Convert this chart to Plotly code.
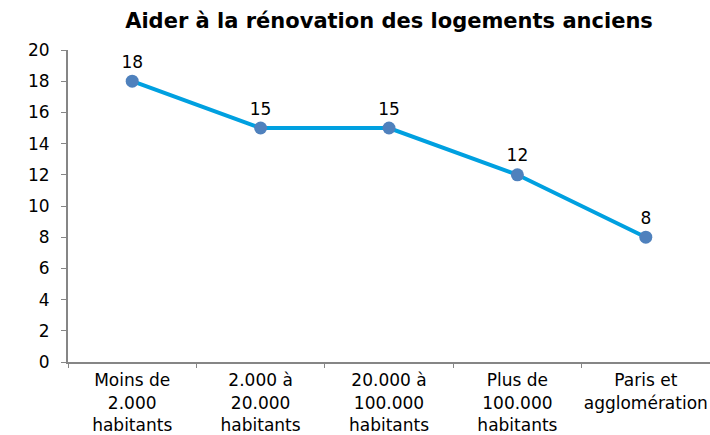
import plotly.graph_objects as go

categories = ["Moins de<br>2.000<br>habitants", "2.000 à<br>20.000<br>habitants",
              "20.000 à<br>100.000<br>habitants", "Plus de<br>100.000<br>habitants",
              "Paris et<br>agglomération"]
values = [18, 15, 15, 12, 8]
y_ticks = [0, 2, 4, 6, 8, 10, 12, 14, 16, 18, 20]
title = "Aider à la rénovation des logements anciens"

FONT = "DejaVu Sans"
fig = go.Figure()
fig.add_trace(go.Scatter(
    x=categories, y=values, mode="lines+markers+text",
    text=[str(v) for v in values], textposition="top center",
    textfont=dict(family=FONT, size=17, color="black"),
    line=dict(color="#00A0E0", width=4),
    marker=dict(color="#4F81BD", size=13),
    cliponaxis=False, showlegend=False,
))
fig.update_layout(
    width=710, height=435,
    margin=dict(l=68, r=0, t=50, b=73),
    paper_bgcolor="white", plot_bgcolor="white",
    font=dict(family=FONT, size=17, color="black"),
    title=dict(text="<b>" + title + "</b>", x=389 / 710, xanchor="center",
               y=1 - 21 / 435, yanchor="middle", yref="container",
               font=dict(family=FONT, size=21, color="black")),
)
fig.update_xaxes(
    type="category", range=[-0.5, 4.5], tickson="boundaries",
    showline=True, linecolor="#868686", linewidth=2,
    ticks="outside", ticklen=4, tickcolor="#868686", tickwidth=1,
    showgrid=False, zeroline=False, tickangle=0, automargin=False,
    ticklabelstandoff=2,
)
fig.update_yaxes(
    range=[0, 20], tickvals=y_ticks,
    showline=True, linecolor="#868686", linewidth=2,
    ticks="outside", ticklen=5, tickcolor="#868686", tickwidth=1,
    showgrid=False, zeroline=False, ticklabelstandoff=8, automargin=False,
)
fig.write_html("out.html", config={"displayModeBar": False},
               post_script="document.body.style.margin='0';document.body.style.overflow='hidden';")
